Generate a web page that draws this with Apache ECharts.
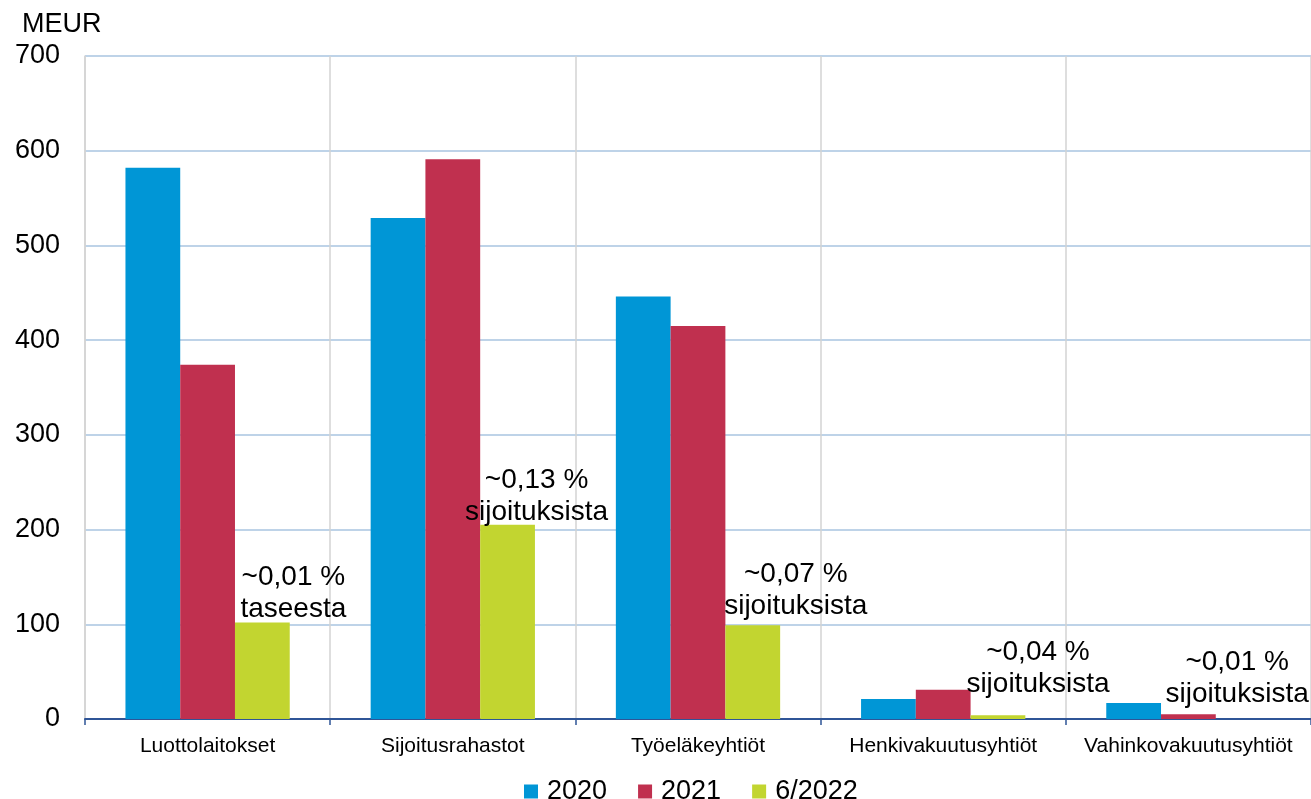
<!DOCTYPE html>
<html><head><meta charset="utf-8">
<script src="https://cdn.jsdelivr.net/npm/echarts@6/dist/echarts.min.js"></script>
<style>html,body{margin:0;padding:0;background:#fff}#c{width:1311px;height:799px}</style>
</head><body><div id="c"></div>
<script>
const categories = ['Luottolaitokset','Sijoitusrahastot','Työeläkeyhtiöt','Henkivakuutusyhtiöt','Vahinkovakuutusyhtiöt'];
const seriesNames = ['2020','2021','6/2022'];
const values2020 = [582, 529, 446, 21, 17];
const values2021 = [374, 591, 415, 31, 5];
const values2022 = [102, 205, 99, 4, 0];
const annotations = ['~0,01 %\ntaseesta','~0,13 %\nsijoituksista','~0,07 %\nsijoituksista','~0,04 %\nsijoituksista','~0,01 %\nsijoituksista'];
const yTicks = [0,100,200,300,400,500,600,700];

const labelOffsets = [[31,8],[29,8],[43,2],[40,-10],[-6,-4]];
const colors = ['#0096D6','#C0304F','#C2D530'];
const font = 'Liberation Sans, Arial, sans-serif';

const chart = echarts.init(document.getElementById('c'));
chart.setOption({
  animation:false,
  color: colors,
  textStyle:{fontFamily:font},
  grid:{left:85,right:0,top:56,bottom:80,containLabel:false},
  legend:{
    bottom:-11,left:519,itemWidth:14,itemHeight:14,itemGap:31,
    icon:'rect',
    textStyle:{fontSize:27,color:'#000',fontFamily:font,padding:[0,0,0,4]},
    data:seriesNames
  },
  xAxis:{
    type:'category',data:categories,
    axisLine:{lineStyle:{color:'#2F5597',width:2}},
    axisTick:{show:true,interval:0,length:6,lineStyle:{color:'#2F5597',width:1.5}},
    axisLabel:{interval:0,fontSize:21,color:'#000',margin:17,fontFamily:font},
    splitLine:{show:true,interval:0,lineStyle:{color:'#D3D3D3',width:1.5}}
  },
  yAxis:{
    type:'value',min:0,max:700,interval:100,
    name:'MEUR',nameLocation:'end',nameGap:18,
    nameTextStyle:{fontSize:27,color:'#000',align:'left',padding:[0,0,0,-63],fontFamily:font},
    axisLine:{show:true,lineStyle:{color:'#D3D3D3',width:1.5}},
    axisTick:{show:false},
    axisLabel:{fontSize:27,color:'#000',margin:25,fontFamily:font,
      formatter:v=>yTicks.includes(v)?String(v):''},
    splitLine:{lineStyle:{color:'#A9C4E0',width:1.5}}
  },
  series:[
    {name:seriesNames[0],type:'bar',data:values2020,barGap:'0%',barCategoryGap:'33%'},
    {name:seriesNames[1],type:'bar',data:values2021,barGap:'0%',barCategoryGap:'33%'},
    {name:seriesNames[2],type:'bar',barGap:'0%',barCategoryGap:'33%',
      data:values2022.map((v,i)=>({value:v,label:{offset:labelOffsets[i]}})),
      label:{show:true,position:'top',distance:5,fontSize:28,lineHeight:32,color:'#000',
        fontFamily:font,align:'center',
        formatter:p=>annotations[p.dataIndex]}}
  ]
});
</script></body></html>
